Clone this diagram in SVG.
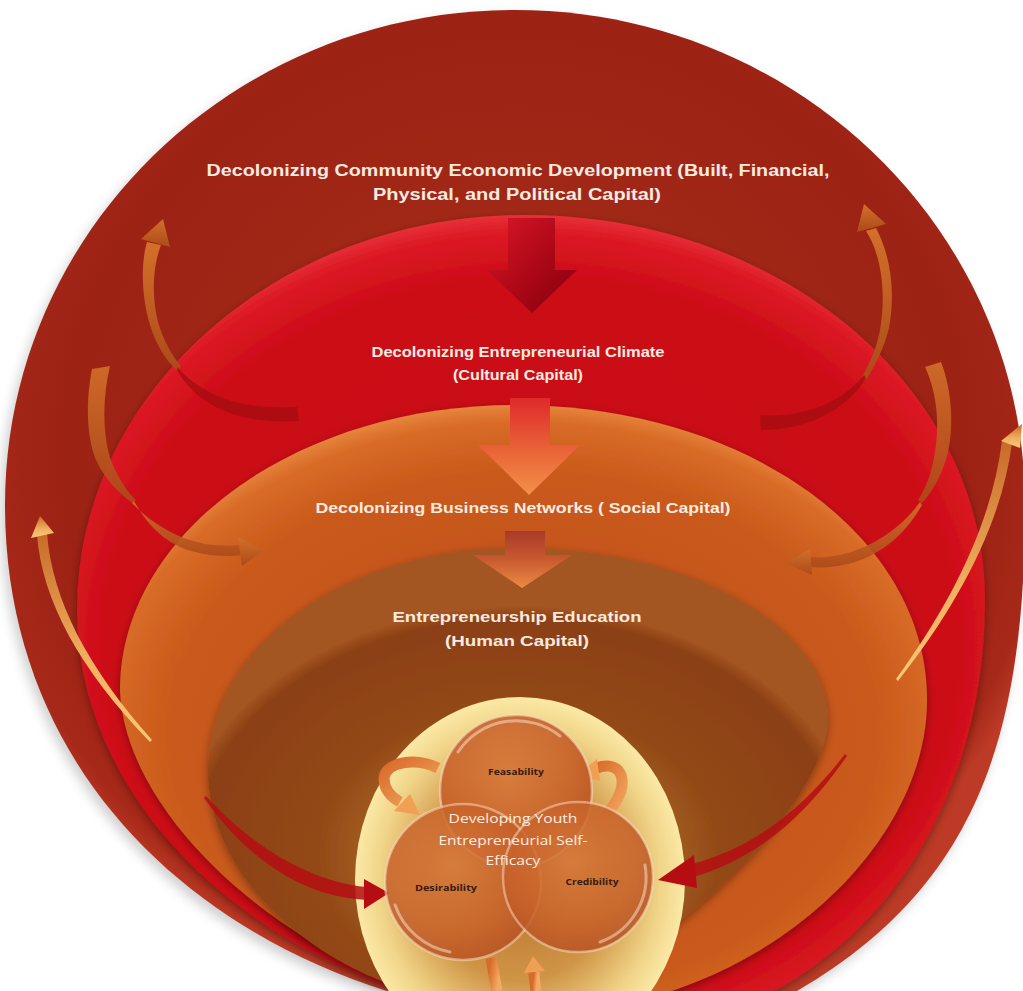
<svg xmlns="http://www.w3.org/2000/svg" width="1023" height="991" viewBox="0 0 1023 991">
<style>
.lbl{font-family:"Liberation Sans",Arial,sans-serif;font-weight:bold;fill:#f7ebe0;text-anchor:middle}
.sm{font-family:"Open Sans","Liberation Sans",sans-serif;font-weight:bold;fill:#3a1a0c;font-size:9.5px;text-anchor:middle}
.ctr{font-family:"Open Sans","Liberation Sans",sans-serif;fill:#fbeee2;font-size:13.5px;text-anchor:middle}
.tail{fill:#a30c10;opacity:.75}
.ring{fill:url(#gArrowO)}
.thin{fill:url(#gThin)}
.redar{fill:#b50d12}
.smallar{fill:none;stroke:url(#gSmall);stroke-width:11;stroke-linecap:butt}
.smallhead{fill:#f0a055}
.ball{fill:url(#gBall);stroke:#f6dcc4;stroke-opacity:.6;stroke-width:2.5}
.gloss{fill:none;stroke:#fff3e6;stroke-opacity:.45;stroke-width:3;stroke-linecap:round}
</style>
<defs>
<radialGradient id="gOuter" cx="50%" cy="45%" r="55%">
<stop offset="0" stop-color="#a8301a"/><stop offset="0.8" stop-color="#9c2214"/><stop offset="0.95" stop-color="#a62818"/><stop offset="1" stop-color="#bc3a26"/>
</radialGradient>
<radialGradient id="gRed" cx="50%" cy="55%" r="55%">
<stop offset="0" stop-color="#c4060f"/><stop offset="0.85" stop-color="#cc0c17"/><stop offset="0.96" stop-color="#dc1a24"/><stop offset="1" stop-color="#e83038"/>
</radialGradient>
<radialGradient id="gOrange" cx="50%" cy="55%" r="55%">
<stop offset="0" stop-color="#c04e16"/><stop offset="0.8" stop-color="#c95a1b"/><stop offset="0.95" stop-color="#d96c28"/><stop offset="1" stop-color="#e6843c"/>
</radialGradient>
<radialGradient id="gBrown" cx="50%" cy="68%" r="55%">
<stop offset="0" stop-color="#d8aa68"/><stop offset="0.28" stop-color="#b2722e"/><stop offset="0.6" stop-color="#924816"/><stop offset="0.95" stop-color="#8c4012"/><stop offset="1" stop-color="#a35422"/>
</radialGradient>
<radialGradient id="gYellow" cx="50%" cy="50%" r="50%">
<stop offset="0" stop-color="#b8722e"/><stop offset="0.55" stop-color="#cf9446"/><stop offset="0.85" stop-color="#f0d488"/><stop offset="1" stop-color="#fbe9a6"/>
</radialGradient>
<radialGradient id="gBall" cx="45%" cy="40%" r="60%">
<stop offset="0" stop-color="#d87a3c"/><stop offset="0.7" stop-color="#c8622a"/><stop offset="1" stop-color="#b85222"/>
</radialGradient>
<linearGradient id="gDown1" x1="0" y1="0" x2="1" y2="1">
<stop offset="0" stop-color="#d81828"/><stop offset="0.5" stop-color="#b00818"/><stop offset="1" stop-color="#80000c"/>
</linearGradient>
<linearGradient id="gDown2" x1="0" y1="0" x2="0" y2="1">
<stop offset="0" stop-color="#e02a2a"/><stop offset="0.6" stop-color="#ea6a3a"/><stop offset="1" stop-color="#f39048"/>
</linearGradient>
<linearGradient id="gDown3" x1="0" y1="0" x2="0" y2="1">
<stop offset="0" stop-color="#a83a2a"/><stop offset="0.5" stop-color="#c85a30"/><stop offset="1" stop-color="#ec8a44"/>
</linearGradient>
<linearGradient id="gArrowO" x1="0" y1="0" x2="0" y2="1">
<stop offset="0" stop-color="#d4702a"/><stop offset="1" stop-color="#ac4a1a"/>
</linearGradient>
<linearGradient id="gThin" x1="0" y1="0" x2="0" y2="1">
<stop offset="0" stop-color="#c86a28"/><stop offset="0.6" stop-color="#f0b060"/><stop offset="1" stop-color="#f8c878"/>
</linearGradient>
<linearGradient id="gSmall" x1="0" y1="0" x2="1" y2="1">
<stop offset="0" stop-color="#d86a2a"/><stop offset="1" stop-color="#f4aa62"/>
</linearGradient>
<filter id="shadow" x="-10%" y="-10%" width="120%" height="120%">
<feDropShadow dx="0" dy="3" stdDeviation="4" flood-color="#000" flood-opacity="0.35"/>
</filter>
<filter id="soft" x="-10%" y="-10%" width="120%" height="120%">
<feGaussianBlur stdDeviation="6"/>
</filter>
</defs>

<path d="M515,14 C797,14 1025,236 1025,509 C1025,744 975,894 790,999 L400,999 C180,934 5,764 5,509 C5,236 232,14 515,14 Z" fill="#777" opacity="0.35" filter="url(#soft)" transform="translate(-4,2)"/>

<g id="layer-community">
<path d="M515,10 C797,10 1025,232 1025,505 C1025,740 975,890 790,995 L400,995 C180,930 5,760 5,505 C5,232 232,10 515,10 Z" fill="url(#gOuter)"/>
<text class="lbl" x="518" y="176" font-size="16" textLength="623" lengthAdjust="spacingAndGlyphs">Decolonizing Community Economic Development (Built, Financial,</text>
<text class="lbl" x="517" y="200" font-size="16" textLength="288" lengthAdjust="spacingAndGlyphs">Physical, and Political Capital)</text>
</g>

<g id="layer-climate">
<path d="M525,215 C779,215 985,387 985,600 C985,780 900,930 760,998 L430,998 C230,945 77,790 77,610 C77,392 278,215 525,215 Z" fill="url(#gRed)" filter="url(#shadow)"/>
<text class="lbl" x="518" y="357" font-size="14.5" textLength="293" lengthAdjust="spacingAndGlyphs">Decolonizing Entrepreneurial Climate</text>
<text class="lbl" x="518" y="380" font-size="14.5" textLength="130" lengthAdjust="spacingAndGlyphs">(Cultural  Capital)</text>
</g>

<g id="layer-networks">
<path d="M515,405 C742,405 927,533 927,700 C927,830 800,960 640,1000 L480,1000 C320,985 125,830 120,690 C120,533 297,405 515,405 Z" fill="url(#gOrange)" filter="url(#shadow)"/>
<text class="lbl" x="523" y="513" font-size="14.5" textLength="415" lengthAdjust="spacingAndGlyphs">Decolonizing Business Networks ( Social Capital)</text>
</g>

<g id="layer-education">
<path d="M515,548 C688,548 828,625 828,720 C825,800 690,935 560,998 L440,998 C320,975 208,880 208,770 C208,647 345,548 515,548 Z" fill="url(#gBrown)" filter="url(#shadow)"/>
<text class="lbl" x="517" y="622" font-size="15" textLength="249" lengthAdjust="spacingAndGlyphs">Entrepreneurship Education</text>
<text class="lbl" x="517" y="646" font-size="15" textLength="144" lengthAdjust="spacingAndGlyphs">(Human Capital)</text>
</g>

<g id="core">
<ellipse cx="520" cy="880" rx="165" ry="183" fill="url(#gYellow)"/>
</g>

<g id="connectors">
<polygon points="508,218 555,218 555,270 577,270 532,313 487,270 508,270" fill="url(#gDown1)"/>
<polygon points="510,398 550,398 550,445 580,445 529,495 478,445 510,445" fill="url(#gDown2)"/>
<polygon points="505,531 545,531 545,555 572,555 522,588 473,555 505,555" fill="url(#gDown3)"/>

<path class="ring" d="M147,242 C141,262 141,295 150,325 C157,347 167,362 177,370 L181,367 C172,355 163,340 158,322 C152,298 152,268 161,245 Z"/>
<polygon class="ring" points="141,239 163,219 170,247"/>
<path class="tail" d="M177,367 C205,398 245,410 297,407 L299,421 C245,424 200,410 177,370 Z"/>

<path class="ring" d="M866,231 C880,252 887,290 880,330 C876,350 870,363 862,377 L866,380 C876,364 884,348 889,328 C896,290 890,255 876,228 Z"/>
<polygon class="ring" points="886,224 864,204 857,232"/>
<path class="tail" d="M864,375 C840,405 800,418 760,415 L761,430 C805,430 845,412 866,378 Z"/>

<path class="ring" opacity="0.9" d="M92,369 L110,366 C103,395 102,430 110,458 C118,478 127,492 136,500 L132,503 C118,492 104,478 96,460 C86,435 86,400 92,369 Z"/>
<path class="ring" opacity="0.9" d="M132,503 C150,522 175,538 205,544 C220,546 230,546 240,545 L242,555 C228,557 210,556 195,552 C170,546 150,530 134,501 Z"/>
<polygon class="ring" points="238,537 263,551 242,566"/>

<path class="ring" opacity="0.9" d="M925,367 L941,362 C952,390 955,430 946,460 C940,478 932,492 922,503 L918,500 C926,488 931,474 934,458 C940,428 938,395 925,367 Z"/>
<path class="ring" opacity="0.9" d="M920,502 C900,530 870,548 840,555 C830,557 820,558 810,557 L811,567 C823,568 835,567 848,564 C880,556 905,535 922,505 Z"/>
<polygon class="ring" points="810,549 786,563 812,575"/>

<path class="thin" d="M37,535 C42,600 80,670 150,742 L152,740 C88,668 52,600 47,533 Z"/>
<polygon class="thin" points="40,516 31,538 54,533"/>
<path class="redar" opacity="0.85" d="M206,796 C250,845 310,882 366,887 L367,900 C300,897 245,856 204,798 Z"/>
<polygon class="redar" points="364,879 389,893 364,909"/>

<path class="thin" d="M1012,443 C1002,520 962,600 898,681 L896,679 C955,598 992,520 1002,441 Z"/>
<polygon class="thin" points="1022,424 1001,441 1020,448"/>
<path class="redar" opacity="0.85" d="M845,754 C808,802 760,846 692,864 L694,877 C767,855 812,806 847,756 Z"/>
<polygon class="redar" points="694,855 658,880 697,888"/>
</g>

<g id="small-arrows">
<path class="smallar" d="M438,768 C415,757 386,762 384,778 C384,790 391,797 400,802"/>
<polygon class="smallhead" points="410,794 420,815 394,811"/>
<path class="smallar" d="M600,822 C615,806 626,790 621,775 C617,765 606,764 595,769"/>
<polygon class="smallhead" points="597,759 576,776 600,781"/>
<path class="smallar" d="M491,958 C493,970 495,980 497,991"/>
<path class="smallar" d="M536,991 C535,983 534,977 534,972"/>
<polygon class="smallhead" points="524,973 533,956 545,971"/>
</g>

<g id="circle-feasability">
<circle class="ball" cx="516" cy="791" r="76" opacity="0.9"/>
<path class="gloss" d="M458,752 A70,70 0 0 1 560,736"/>
<text class="sm" x="516" y="775" textLength="56" lengthAdjust="spacingAndGlyphs">Feasability</text>
</g>
<g id="circle-desirability">
<circle class="ball" cx="463" cy="882" r="78" opacity="0.85"/>
<path class="gloss" d="M395,905 A72,72 0 0 0 450,952"/>
<text class="sm" x="446" y="891" textLength="62" lengthAdjust="spacingAndGlyphs">Desirability</text>
</g>
<g id="circle-credibility">
<circle class="ball" cx="578" cy="877" r="75" opacity="0.85"/>
<path class="gloss" d="M645,865 A69,69 0 0 1 600,942"/>
<text class="sm" x="592" y="885" textLength="53" lengthAdjust="spacingAndGlyphs">Credibility</text>
</g>
<g id="center-label">
<text class="ctr" x="513" y="823" textLength="129" lengthAdjust="spacingAndGlyphs">Developing Youth</text>
<text class="ctr" x="513" y="845" textLength="149" lengthAdjust="spacingAndGlyphs">Entrepreneurial Self-</text>
<text class="ctr" x="513" y="865" textLength="55" lengthAdjust="spacingAndGlyphs">Efficacy</text>
</g>
</svg>
